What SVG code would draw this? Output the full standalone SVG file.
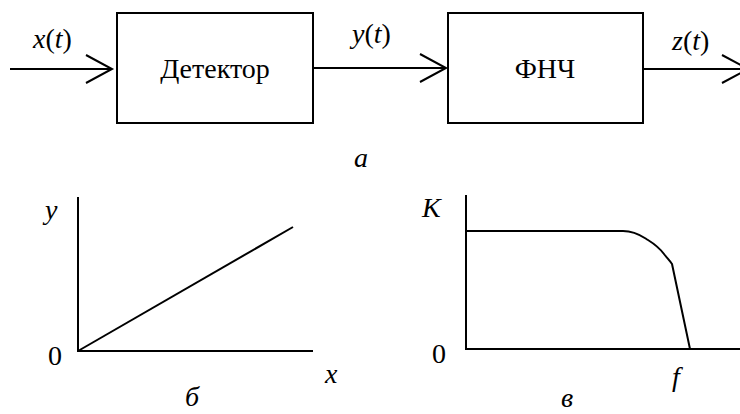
<svg xmlns="http://www.w3.org/2000/svg" width="740" height="414" viewBox="0 0 740 414">
<style>
.ln{stroke:#000;stroke-width:2;fill:none}
.box{stroke:#000;stroke-width:2;fill:#fff}
.t{font-family:"Liberation Serif","Times New Roman",serif;font-size:28px;fill:#000}
.i{font-style:italic}
</style>
<rect width="740" height="414" fill="#fff"/>
<g id="connectors">
<line class="ln" x1="10" y1="69" x2="112" y2="69"/>
<polyline class="ln" points="86,55 112,69 86,83"/>
<line class="ln" x1="313" y1="68" x2="446" y2="68"/>
<polyline class="ln" points="420,54 446,68 420,82"/>
<line class="ln" x1="643" y1="69" x2="745" y2="69"/>
<polyline class="ln" points="722,55 748,69 722,83"/>
</g>
<g id="detector">
<rect class="box" x="117" y="13" width="196" height="110"/>
<text class="t" x="215" y="78" text-anchor="middle">Детектор</text>
</g>
<g id="lpf">
<rect class="box" x="448" y="13" width="195" height="110"/>
<text class="t" x="545" y="78" text-anchor="middle">ФНЧ</text>
</g>
<g id="labels">
<text class="t" x="33" y="48"><tspan class="i">x</tspan>(<tspan class="i">t</tspan>)</text>
<text class="t" x="352" y="43"><tspan class="i">y</tspan>(<tspan class="i">t</tspan>)</text>
<text class="t" x="672" y="50"><tspan class="i">z</tspan>(<tspan class="i">t</tspan>)</text>
<text class="t i" x="361" y="167" text-anchor="middle">а</text>
</g>
<g id="graph-b">
<polyline class="ln" points="78,197 78,351 313,351"/>
<line class="ln" x1="78" y1="351" x2="293" y2="227"/>
<text class="t i" x="45" y="219">y</text>
<text class="t" x="48" y="365">0</text>
<text class="t i" x="325" y="383">x</text>
<text class="t i" x="192" y="406" text-anchor="middle">б</text>
</g>
<g id="graph-v">
<polyline class="ln" points="466,195 466,349 740,349"/>
<path class="ln" d="M466,231 L623,231 C636,231 643,237 648,240 C656,245 661,250 664,254 C667,258 670,261 672,264 L690,349"/>
<text class="t i" x="422" y="217">K</text>
<text class="t" x="432" y="363">0</text>
<text class="t i" x="672" y="386">f</text>
<text class="t i" x="567" y="407" text-anchor="middle">в</text>
</g>
</svg>
